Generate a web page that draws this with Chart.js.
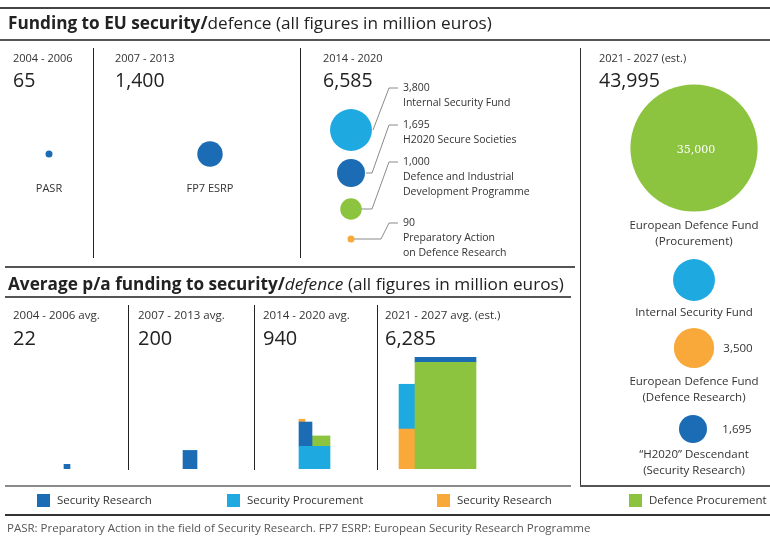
<!DOCTYPE html>
<html>
<head>
<meta charset="utf-8">
<title>Funding to EU security/defence</title>
<script src="https://cdn.jsdelivr.net/npm/chart.js@4.4.0/dist/chart.umd.min.js"></script>
<style>
    html, body { margin: 0; padding: 0; background: #fff; }
    #page { position: relative; width: 770px; height: 537px; overflow: hidden; background: #fff; font-family: "Open Sans", sans-serif; color: #222; }
    #page canvas { position: absolute; }
    .t { position: absolute; white-space: nowrap; line-height: 1; transform: translateY(-50%); }
    .t.c { transform: translate(-50%, -50%); text-align: center; }
    .rule { position: absolute; }
</style>
</head>
<body>
<div id="page">
    <canvas id="barCanvas" width="580" height="170" style="left:0;top:299px"></canvas>
    <canvas id="bubbleCanvas" width="770" height="537" style="left:0;top:0"></canvas>
</div>
<script>
/* ============================
   Data
   ============================ */
const periodLabels = ['2004 - 2006', '2007 - 2013', '2014 - 2020', '2021 - 2027 (est.)'];
const periodYears = [3, 7, 7, 7];
const periodTotals = [65, 1400, 6585, 43995];

const avgLabels = ['2004 - 2006 avg.', '2007 - 2013 avg.', '2014 - 2020 avg.', '2021 - 2027 avg. (est.)'];
const avgTotals = [22, 200, 940, 6285];

const seriesNames = ['Security Research', 'Security Procurement', 'Security Research', 'Defence Procurement'];
const seriesColors = ['#1b6bb5', '#1ea9e1', '#f8a93a', '#8cc43f'];

// one entry per programme (bubble + bar segment)
const programmeNames = [
    'PASR', 'FP7 ESRP',
    'Internal Security Fund', 'H2020 Secure Societies',
    'Defence and Industrial|Development Programme', 'Preparatory Action|on Defence Research',
    'European Defence Fund|(Procurement)', 'Internal Security Fund',
    'European Defence Fund|(Defence Research)', '“H2020” Descendant|(Security Research)'
];
const programmePeriod = [0, 1, 2, 2, 2, 2, 3, 3, 3, 3];
const programmeSeries = [0, 0, 1, 0, 3, 2, 3, 1, 2, 0];
const programmeAmounts = [65, 1400, 3800, 1695, 1000, 90, 35000, 3800, 3500, 1695];

const footnote = 'PASR: Preparatory Action in the field of Security Research. FP7 ESRP: European Security Research Programme';

/* ============================
   Layout (page pixels)
   ============================ */
const RADIUS_K = 0.34;   // bubble radius per sqrt(million euros)
const AREA_K = 1.3;      // bar area px² per million euros / year
const BAR_TOP = 299, BAR_BASE = 469, BAR_W = 580;

const bubblePos = [[49, 154], [210, 154], [351, 130], [351, 173], [351, 209], [351, 239],
                   [694, 148], [694, 280], [694, 348], [693, 429]];
const barLeft  = [64, 183, 299, 299, 312, 299, 415, 399, 399, 415];
const barWidth = [6, 14, 31, 13, 18, 6, 61, 16, 16, 61];
const barOn    = [-1, -1, -1, 2, 2, 3, -1, 8, -1, 6];   // segment it sits on

const callouts = [
    [[373, 130], [389, 88], [398, 88]],
    [[366, 173], [372, 173], [389, 125], [398, 125]],
    [[360, 209], [372, 209], [389, 162], [398, 162]],
    [[354, 239], [381, 239], [389, 223], [398, 223]]
];

const fmt = n => n.toLocaleString('en-US');

/* ============================
   Text + rules
   ============================ */
const page = document.getElementById('page');

function text(x, y, content, style = '', center = false) {
    const el = document.createElement('div');
    el.className = 't' + (center ? ' c' : '');
    el.style.cssText = `left:${x}px;top:${y}px;${style}`;
    el.innerHTML = content;
    page.appendChild(el);
}

function rule(x, y, w, h, color) {
    const el = document.createElement('div');
    el.className = 'rule';
    el.style.cssText = `left:${x}px;top:${y}px;width:${w}px;height:${h}px;background:${color}`;
    page.appendChild(el);
}

// frame lines
rule(0, 7, 770, 1.5, '#444');
rule(0, 39, 770, 1.5, '#555');
rule(93, 48, 1, 210, '#222');
rule(300, 48, 1, 210, '#222');
rule(5, 266, 570, 1.5, '#555');
rule(580, 48, 1, 438, '#333');
rule(580, 485, 190, 1.5, '#555');
rule(5, 296, 566, 1.5, '#555');
[128, 254, 377].forEach(x => rule(x, 305, 1, 165, '#222'));
rule(5, 485, 566, 2, '#8a8a8a');
rule(5, 514, 765, 1.5, '#333');

// titles
text(8, 23, '<b>Funding to EU security/</b>defence (all figures in million euros)', 'font-size:17.2px');
text(8, 284, '<b>Average p/a funding to security/</b><i>defence</i> (all figures in million euros)', 'font-size:17.2px');

// period headers
const periodX = [13, 115, 323, 599];
periodLabels.forEach((p, i) => {
    text(periodX[i], 57, p, 'font-size:11px;color:#333');
    text(periodX[i], 80, fmt(periodTotals[i]), 'font-size:19.5px');
});
const avgX = [13, 138, 263, 385];
avgLabels.forEach((p, i) => {
    text(avgX[i], 315, p, 'font-size:11.5px;color:#333');
    text(avgX[i], 338, fmt(avgTotals[i]), 'font-size:20px');
});

// bubble labels
text(49, 187, programmeNames[0], 'font-size:11px;color:#333', true);
text(210, 187, programmeNames[1], 'font-size:11px;color:#333', true);

const calloutY = [87, 124, 161, 222];
[2, 3, 4, 5].forEach((p, k) => {
    const lines = [fmt(programmeAmounts[p])].concat(programmeNames[p].split('|'));
    lines.forEach((l, j) => text(403, calloutY[k] + j * 15, l, 'font-size:10.5px;color:#333'));
});

const rightY = [225, 312, 381, 454];
[6, 7, 8, 9].forEach((p, k) => {
    programmeNames[p].split('|').forEach((l, j) => text(694, rightY[k] + j * 16, l, 'font-size:11.5px;color:#333', true));
});
text(696, 149, fmt(programmeAmounts[6]), 'font-size:11px;color:#fff;font-family:"DejaVu Serif",serif', true);
text(738, 348, fmt(programmeAmounts[8]), 'font-size:11.5px;color:#333', true);
text(737, 429, fmt(programmeAmounts[9]), 'font-size:11.5px;color:#333', true);

// legend
const legendX = [37, 227, 437, 629];
seriesNames.forEach((s, i) => {
    rule(legendX[i], 494, 13, 13, seriesColors[i]);
    text(legendX[i] + 20, 500, s, 'font-size:11.5px;color:#333');
});

text(7, 528, footnote, 'font-size:11.5px;color:#555');

/* ============================
   Bubbles (period totals)
   ============================ */
const radiusFor = v => Math.max(3.5, RADIUS_K * Math.sqrt(v));

new Chart(document.getElementById('bubbleCanvas'), {
    type: 'bubble',
    data: {
        datasets: [
            {
                data: programmeAmounts.map((v, i) => ({ x: bubblePos[i][0], y: bubblePos[i][1], r: radiusFor(v) })),
                backgroundColor: programmeSeries.map(s => seriesColors[s]),
                borderWidth: 0,
                order: 1
            },
            ...callouts.map(pts => ({
                type: 'line',
                data: pts.map(([x, y]) => ({ x, y })),
                borderColor: '#8a8a8a',
                borderWidth: 1,
                pointRadius: 0,
                fill: false,
                tension: 0,
                order: 2
            }))
        ]
    },
    options: {
        responsive: false, animation: false,
        layout: { padding: 0, autoPadding: false },
        plugins: { legend: { display: false }, tooltip: { enabled: false } },
        scales: {
            x: { type: 'linear', min: 0, max: 770, display: false },
            y: { type: 'linear', min: 0, max: 537, reverse: true, display: false }
        }
    }
});

/* ============================
   Bars (average p/a, area ~ value)
   ============================ */
const perYear = programmeAmounts.map((v, i) => v / periodYears[programmePeriod[i]]);
const segTop = [];
function topOf(i) {
    if (segTop[i] !== undefined) return segTop[i];
    const base = barOn[i] < 0 ? 0 : topOf(barOn[i]);
    segTop[i] = base + perYear[i] / barWidth[i];
    return segTop[i];
}
const segBase = i => (barOn[i] < 0 ? 0 : topOf(barOn[i]));

new Chart(document.getElementById('barCanvas'), {
    type: 'bar',
    data: {
        datasets: programmeAmounts.map((v, i) => ({
            data: [{ x: barLeft[i] + barWidth[i] / 2, y: [segBase(i), topOf(i)] }],
            backgroundColor: seriesColors[programmeSeries[i]],
            barThickness: barWidth[i],
            grouped: false,
            borderWidth: 0
        }))
    },
    options: {
        responsive: false, animation: false,
        layout: { padding: 0, autoPadding: false },
        plugins: { legend: { display: false }, tooltip: { enabled: false } },
        scales: {
            x: { type: 'linear', min: 0, max: BAR_W, offset: false, display: false },
            y: { type: 'linear', min: 0, max: (BAR_BASE - BAR_TOP) / AREA_K, display: false }
        }
    }
});
</script>
</body>
</html>
